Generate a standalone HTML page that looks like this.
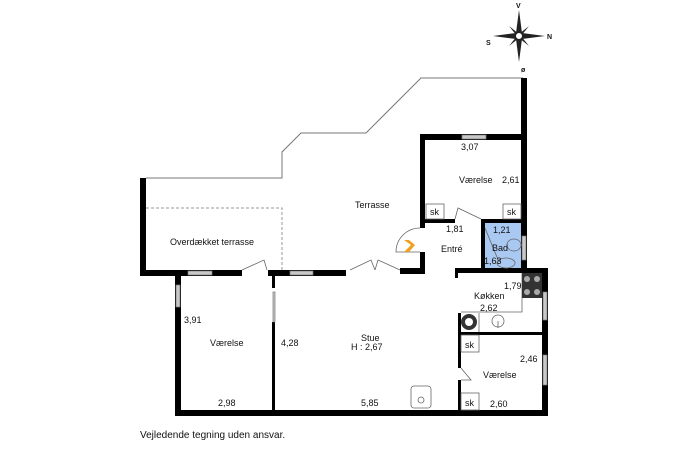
<!DOCTYPE html>
<html><head><meta charset="utf-8"><style>
html,body{margin:0;padding:0;background:#fff;width:687px;height:457px;overflow:hidden}
svg{display:block}
text{font-family:"Liberation Sans",sans-serif;font-size:9px;fill:#111}
</style></head><body>
<svg width="687" height="457" viewBox="0 0 687 457">
<polyline points="146,178 282,178 282,152 301,133 366,133 421,78 523,78" fill="none" stroke="#777" stroke-width="1"/>
<polyline points="146,208 282,208 282,270" fill="none" stroke="#999" stroke-width="1" stroke-dasharray="3,2"/>
<rect x="484" y="222" width="38" height="46" fill="#a9c8f2"/>
<g fill="#000">
<rect x="140" y="178" width="6" height="98"/>
<rect x="140" y="270" width="102" height="6"/>
<rect x="268" y="270" width="78" height="6"/>
<rect x="400" y="268" width="25" height="6"/>
<rect x="420" y="252" width="5" height="22"/>
<rect x="420" y="134" width="5" height="94"/>
<rect x="420" y="134" width="107" height="6"/>
<rect x="521" y="78" width="6" height="192"/>
<rect x="420" y="219" width="35" height="4"/>
<rect x="481" y="219" width="42" height="4"/>
<rect x="481" y="219" width="4" height="51"/>
<rect x="455" y="268" width="93" height="5"/>
<rect x="455" y="268" width="3" height="10"/>
<rect x="542" y="268" width="6" height="148"/>
<rect x="458" y="313" width="3" height="55"/>
<rect x="458" y="380" width="3" height="32"/>
<rect x="458" y="332" width="84" height="3"/>
<rect x="175" y="270" width="6" height="146"/>
<rect x="272" y="276" width="3" height="12"/>
<rect x="272" y="322" width="3" height="90"/>
<rect x="175" y="410" width="373" height="6"/>
</g>
<g fill="#c8c8c8" stroke="#777" stroke-width="0.7">
<rect x="188" y="271" width="24" height="4"/>
<rect x="290" y="271" width="23" height="4"/>
<rect x="462" y="135" width="24" height="4"/>
<rect x="176" y="285" width="4" height="22"/>
<rect x="522" y="236" width="4" height="24"/>
<rect x="543" y="292" width="4" height="28"/>
<rect x="543" y="355" width="4" height="30"/>
<rect x="273" y="292" width="2" height="30"/>
</g>
<g fill="none" stroke="#666" stroke-width="0.8">
<path d="M242,270 L264,260 L267,270"/>
<path d="M350,270 L371,260 L375,270 M375,270 L378,260 L400,270"/>
<path d="M455,219 L458,208 L481,219"/>
<path d="M485,228 L499,262"/>
<path d="M461,368 L471,380 L461,380"/>
<path d="M420,228 A24,24 0 0 0 396,252 L420,252"/>
<path d="M522,273 L522,312 L461,312"/>
<path d="M479,313 L479,332"/>
<rect x="426" y="204" width="18" height="15"/>
<rect x="503" y="204" width="18" height="15"/>
<rect x="461" y="335" width="18" height="17"/>
<rect x="461" y="393" width="18" height="17"/>
<rect x="411" y="386" width="20" height="22" rx="3"/>
<circle cx="421" cy="400" r="3"/>
<circle cx="498" cy="321" r="6"/>
<path d="M498,321 L498,328"/>
<ellipse cx="514" cy="245" rx="7" ry="6"/>
<ellipse cx="506" cy="263" rx="9" ry="5"/>
</g>
<path d="M404,240 L411,245 L404,252 L409,252 L415,245 L409,240Z" fill="#f0a020"/>
<rect x="522" y="273" width="20" height="25" fill="#333"/>
<g fill="#aaa"><circle cx="527" cy="279" r="3"/><circle cx="537" cy="279" r="3"/><circle cx="527" cy="292" r="3"/><circle cx="537" cy="292" r="3"/></g>
<circle cx="469" cy="322" r="8" fill="#333"/><circle cx="469" cy="322" r="4" fill="#fff"/>
<text x="355" y="208">Terrasse</text>
<text x="170" y="245">Overdækket terrasse</text>
<text x="459" y="183">Værelse</text>
<text x="502" y="183">2,61</text>
<text x="461" y="150">3,07</text>
<text x="430" y="215">sk</text>
<text x="507" y="215">sk</text>
<text x="446" y="232">1,81</text>
<text x="441" y="252">Entré</text>
<text x="493" y="233">1,21</text>
<text x="492" y="251">Bad</text>
<text x="484" y="264">1,63</text>
<text x="504" y="289">1,79</text>
<text x="474" y="299">Køkken</text>
<text x="480" y="311">2,62</text>
<text x="465" y="348">sk</text>
<text x="465" y="406">sk</text>
<text x="520" y="362">2,46</text>
<text x="483" y="378">Værelse</text>
<text x="490" y="407">2,60</text>
<text x="184" y="323">3,91</text>
<text x="210" y="346">Værelse</text>
<text x="218" y="406">2,98</text>
<text x="281" y="346">4,28</text>
<text x="361" y="341">Stue</text>
<text x="351" y="350">H : 2,67</text>
<text x="361" y="406">5,85</text>
<text x="140" y="438" style="font-size:10px">Vejledende tegning uden ansvar.</text>
<g transform="translate(519,36)">
<path d="M0,-26 L3,-3 L26,0 L3,3 L0,26 L-3,3 L-26,0 L-3,-3Z" fill="#222"/>
<path d="M-10,-10 L0,-2 L10,-10 L2,0 L10,10 L0,2 L-10,10 L-2,0Z" fill="#222"/>
<circle r="4" fill="#fff" stroke="#222" stroke-width="2"/>
<text x="-3" y="-28" style="font-size:7px;font-weight:bold">V</text>
<text x="28" y="3" style="font-size:7px;font-weight:bold">N</text>
<text x="-33" y="9" style="font-size:7px;font-weight:bold">S</text>
<text x="2" y="36" style="font-size:7px;font-weight:bold">ø</text>
</g>
</svg>
</body></html>
